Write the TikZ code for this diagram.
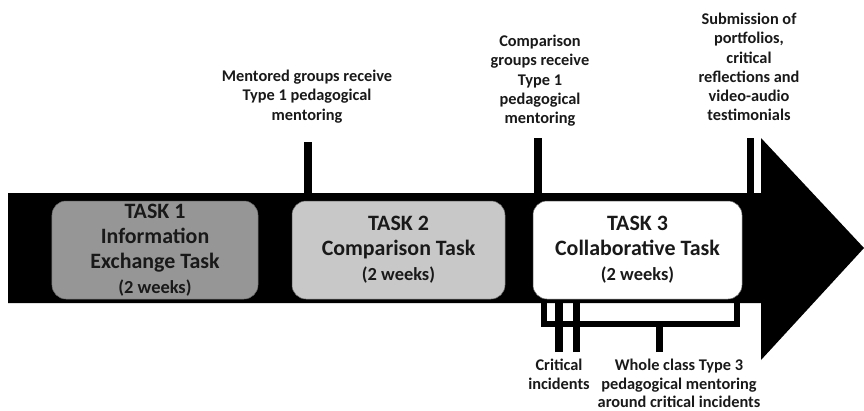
\documentclass[tikz,border=0pt]{standalone}
\usepackage{fontspec}
\setmainfont{Carlito}
\usepackage{tikz}
\usepackage{xcolor}
\usetikzlibrary{calc}
\definecolor{inkcolor}{RGB}{25,25,25}
\definecolor{taskonecolor}{RGB}{150,150,150}
\definecolor{tasktwocolor}{RGB}{200,200,200}
\definecolor{taskthreecolor}{RGB}{255,255,255}
\tikzstyle{taskbox} = [rectangle, rounded corners=14bp, draw=black!60, line width=0.5bp, minimum height=98bp, inner sep=0pt, align=center, text=inkcolor, font=\fontsize{22}{25}\selectfont\bfseries]
\tikzstyle{note} = [align=center, inner sep=0pt, text=inkcolor, font=\fontsize{16.4}{19.3}\selectfont\bfseries]
\tikzstyle{tick} = [line width=7.5bp]
\tikzstyle{bracket} = [line width=6bp]
\newcommand{\twoweeks}{{\fontsize{18.5}{20}\selectfont (2 weeks)}}

\begin{document}
\begin{tikzpicture}[x=1bp, y=-1bp]
    \useasboundingbox (0,0) rectangle (864,410);

    % Timeline arrow
    \fill[black] (8,193) -- (761,193) -- (761,138) -- (864,248) -- (761,360) -- (761,303) -- (8,303) -- cycle;
    \coordinate (bartop) at (0,193);
    \coordinate (barbot) at (0,303);

    % Tasks
    \node[taskbox, fill=taskonecolor, minimum width=206bp] (task1) at (155,250) {TASK 1\\Information\\Exchange Task\\\twoweeks};
    \node[taskbox, fill=tasktwocolor, minimum width=213bp] (task2) at (398.5,250) {TASK 2\\Comparison Task\\\twoweeks};
    \node[taskbox, fill=taskthreecolor, minimum width=209bp] (task3) at (637.5,250) {TASK 3\\Collaborative Task\\\twoweeks};

    % Events above the timeline
    \node[note, anchor=north] (mentored) at (307,70) {Mentored groups receive\\Type 1 pedagogical\\mentoring};
    \node[note, anchor=north] (comparison) at (540,35) {Comparison\\groups receive\\Type 1\\pedagogical\\mentoring};
    \node[note, anchor=north] (submission) at (749,13) {Submission of\\portfolios,\\critical\\reflections and\\video-audio\\testimonials};
    \coordinate (mentortick) at (308,142);
    \coordinate (comparisontick) at (538,138);
    \coordinate (submissiontick) at (750.5,138);
    \draw[tick] (mentortick) -- (mentortick |- bartop);
    \draw[tick] (comparisontick) -- (comparisontick |- bartop);
    \draw[tick] (submissiontick) -- (submissiontick |- bartop);

    % Events below the timeline
    \node[note, anchor=north] (critical) at (559,359) {Critical\\incidents};
    \node[note, anchor=north, font=\fontsize{16.4}{18.4}\selectfont\bfseries] (wholeclass) at (679,359) {Whole class Type 3\\pedagogical mentoring\\around critical incidents};
    \coordinate (bracketleft) at (544,324);
    \coordinate (bracketright) at (737,324);
    \draw[bracket] (bracketleft |- barbot) -- (bracketleft) -- (bracketright) -- (bracketright |- barbot);
    \coordinate (criticalone) at (559,352);
    \coordinate (criticaltwo) at (576.5,352);
    \coordinate (wholetick) at (659.5,352);
    \draw[tick] (criticalone) -- (criticalone |- barbot);
    \draw[tick] (criticaltwo) -- (criticaltwo |- barbot);
    \draw[tick] (wholetick) -- (wholetick |- bracketleft);
\end{tikzpicture}
\end{document}
